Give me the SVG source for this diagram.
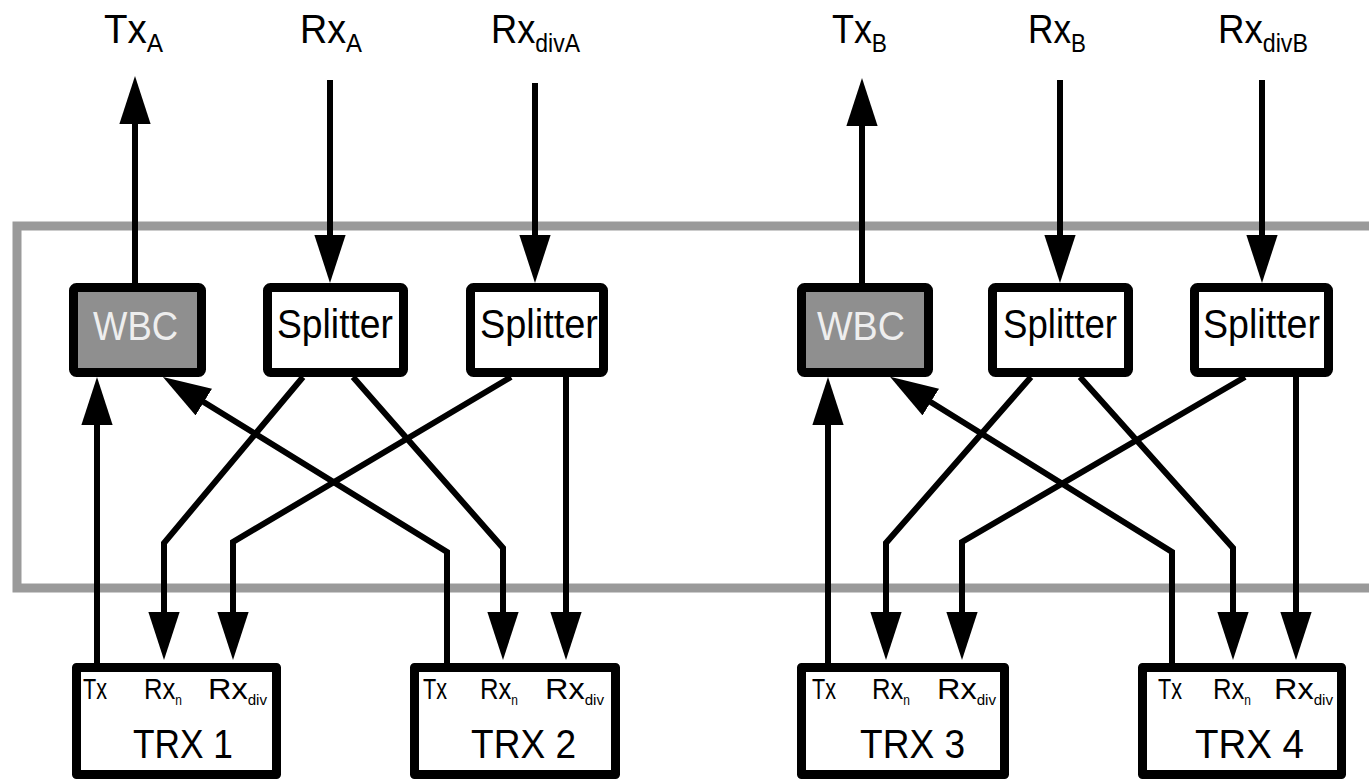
<svg xmlns="http://www.w3.org/2000/svg" width="1369" height="779" viewBox="0 0 1369 779">
<style>
.box{fill:#fff;stroke:#000;stroke-width:9;stroke-linejoin:round}
.wbc{fill:#8f8f8f;stroke:#000;stroke-width:9;stroke-linejoin:round}
.frame{fill:none;stroke:#9a9a9a;stroke-width:9}
.ln{fill:none;stroke:#000;stroke-width:6;stroke-linejoin:miter}
text{font-family:"Liberation Sans",Arial,sans-serif;fill:#000}
.big{font-size:41px}
.lab{font-size:30px}
.wt{fill:#eeeeee}
</style>
<defs>
<marker id="ah" markerUnits="userSpaceOnUse" markerWidth="48" markerHeight="32" viewBox="0 0 46 30" refX="2" refY="15" orient="auto">
<path d="M0,0 L46,15 L0,30 z" fill="#000"/>
</marker>
</defs>
<rect class="frame" x="17" y="226" width="1400" height="362"/>

<g id="labels-top">
<text class="big" x="104" y="43" textLength="59" lengthAdjust="spacingAndGlyphs">Tx<tspan font-size="26" dy="9">A</tspan></text>
<text class="big" x="300" y="43" textLength="62" lengthAdjust="spacingAndGlyphs">Rx<tspan font-size="26" dy="9">A</tspan></text>
<text class="big" x="491" y="43" textLength="89" lengthAdjust="spacingAndGlyphs">Rx<tspan font-size="26" dy="9">divA</tspan></text>
<text class="big" x="832" y="43" textLength="55" lengthAdjust="spacingAndGlyphs">Tx<tspan font-size="26" dy="9">B</tspan></text>
<text class="big" x="1028" y="43" textLength="58" lengthAdjust="spacingAndGlyphs">Rx<tspan font-size="26" dy="9">B</tspan></text>
<text class="big" x="1218" y="43" textLength="90" lengthAdjust="spacingAndGlyphs">Rx<tspan font-size="26" dy="9">divB</tspan></text>
</g>

<g id="connectors">
<path class="ln" d="M135,283 V122" marker-end="url(#ah)"/>
<path class="ln" d="M330,80 V237" marker-end="url(#ah)"/>
<path class="ln" d="M535,83 V237" marker-end="url(#ah)"/>
<path class="ln" d="M862,283 V124" marker-end="url(#ah)"/>
<path class="ln" d="M1060,80 V237" marker-end="url(#ah)"/>
<path class="ln" d="M1262,80 V237" marker-end="url(#ah)"/>

<path class="ln" d="M97,663 V423" marker-end="url(#ah)"/>
<path class="ln" d="M303,377 L164,543 V614" marker-end="url(#ah)"/>
<path class="ln" d="M511,377 L233,542 V614" marker-end="url(#ah)"/>
<path class="ln" d="M447,663 V552 L202,401" marker-end="url(#ah)"/>
<path class="ln" d="M353,377 L503,548 V614" marker-end="url(#ah)"/>
<path class="ln" d="M566,377 V614" marker-end="url(#ah)"/>

<path class="ln" d="M828,663 V423" marker-end="url(#ah)"/>
<path class="ln" d="M1031,377 L886,543 V614" marker-end="url(#ah)"/>
<path class="ln" d="M1245,377 L962,542 V614" marker-end="url(#ah)"/>
<path class="ln" d="M1172,663 V552 L929,401" marker-end="url(#ah)"/>
<path class="ln" d="M1080,377 L1233,548 V614" marker-end="url(#ah)"/>
<path class="ln" d="M1296,377 V614" marker-end="url(#ah)"/>
</g>

<g id="wbcA">
<rect class="wbc" x="73.5" y="287.5" width="128" height="85" rx="3"/>
<text class="big wt" x="93" y="340" textLength="85" lengthAdjust="spacingAndGlyphs">WBC</text>
</g>
<g id="splitterA1">
<rect class="box" x="267.5" y="287.5" width="136" height="85" rx="3"/>
<text class="big" x="277" y="338" textLength="116" lengthAdjust="spacingAndGlyphs">Splitter</text>
</g>
<g id="splitterA2">
<rect class="box" x="470.5" y="287.5" width="133" height="85" rx="3"/>
<text class="big" x="480" y="338" textLength="118" lengthAdjust="spacingAndGlyphs">Splitter</text>
</g>
<g id="wbcB">
<rect class="wbc" x="801.5" y="287.5" width="127" height="85" rx="3"/>
<text class="big wt" x="817" y="340" textLength="88" lengthAdjust="spacingAndGlyphs">WBC</text>
</g>
<g id="splitterB1">
<rect class="box" x="992.5" y="287.5" width="136" height="85" rx="3"/>
<text class="big" x="1003" y="338" textLength="114" lengthAdjust="spacingAndGlyphs">Splitter</text>
</g>
<g id="splitterB2">
<rect class="box" x="1194.5" y="287.5" width="134" height="85" rx="3"/>
<text class="big" x="1203" y="338" textLength="117" lengthAdjust="spacingAndGlyphs">Splitter</text>
</g>

<g id="trx1">
<rect class="box" x="76.5" y="667.5" width="200" height="107"/>
<text class="lab" x="83" y="699" textLength="24" lengthAdjust="spacingAndGlyphs">Tx</text>
<text class="lab" x="144" y="699" textLength="38" lengthAdjust="spacingAndGlyphs">Rx<tspan font-size="14" dy="6">n</tspan></text>
<text class="lab" x="208" y="699" textLength="59" lengthAdjust="spacingAndGlyphs">Rx<tspan font-size="14" dy="6">div</tspan></text>
<text class="big" x="133" y="758" textLength="100" lengthAdjust="spacingAndGlyphs">TRX 1</text>
</g>
<g id="trx2">
<rect class="box" x="414.5" y="667.5" width="201" height="107"/>
<text class="lab" x="423" y="699" textLength="24" lengthAdjust="spacingAndGlyphs">Tx</text>
<text class="lab" x="480" y="699" textLength="38" lengthAdjust="spacingAndGlyphs">Rx<tspan font-size="14" dy="6">n</tspan></text>
<text class="lab" x="545" y="699" textLength="59" lengthAdjust="spacingAndGlyphs">Rx<tspan font-size="14" dy="6">div</tspan></text>
<text class="big" x="471" y="758" textLength="105" lengthAdjust="spacingAndGlyphs">TRX 2</text>
</g>
<g id="trx3">
<rect class="box" x="801.5" y="667.5" width="203" height="107"/>
<text class="lab" x="812" y="699" textLength="24" lengthAdjust="spacingAndGlyphs">Tx</text>
<text class="lab" x="872" y="699" textLength="38" lengthAdjust="spacingAndGlyphs">Rx<tspan font-size="14" dy="6">n</tspan></text>
<text class="lab" x="937" y="699" textLength="59" lengthAdjust="spacingAndGlyphs">Rx<tspan font-size="14" dy="6">div</tspan></text>
<text class="big" x="860" y="758" textLength="105" lengthAdjust="spacingAndGlyphs">TRX 3</text>
</g>
<g id="trx4">
<rect class="box" x="1142.5" y="667.5" width="199" height="107"/>
<text class="lab" x="1158" y="699" textLength="24" lengthAdjust="spacingAndGlyphs">Tx</text>
<text class="lab" x="1213" y="699" textLength="38" lengthAdjust="spacingAndGlyphs">Rx<tspan font-size="14" dy="6">n</tspan></text>
<text class="lab" x="1274" y="699" textLength="59" lengthAdjust="spacingAndGlyphs">Rx<tspan font-size="14" dy="6">div</tspan></text>
<text class="big" x="1195" y="758" textLength="109" lengthAdjust="spacingAndGlyphs">TRX 4</text>
</g>
</svg>
